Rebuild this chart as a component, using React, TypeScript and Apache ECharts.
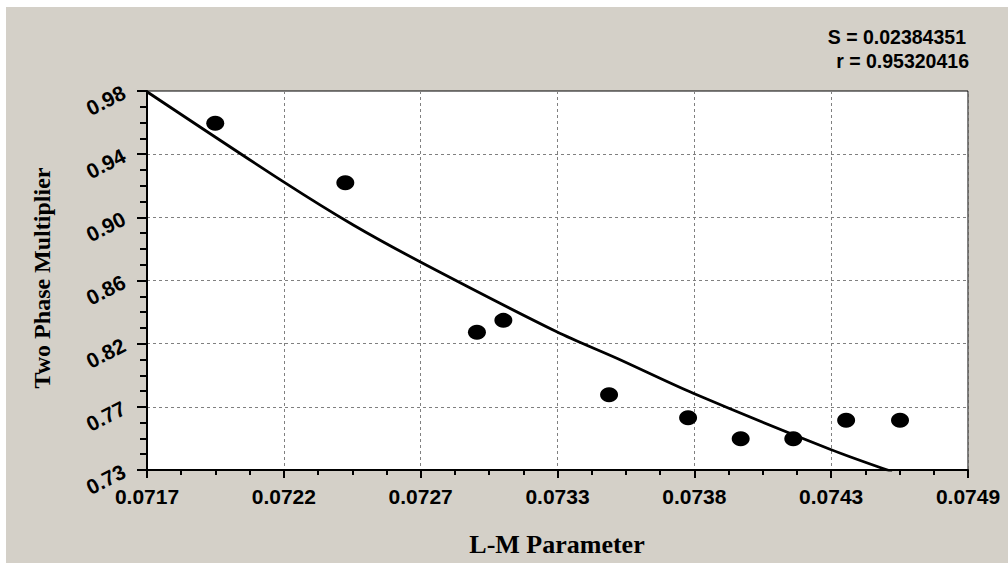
import React, { useEffect, useRef } from "react";
import * as echarts from "echarts";

// Measured data points
const lmParameter = [0.071966, 0.072473, 0.072986, 0.073089, 0.073501, 0.073809, 0.074014, 0.074219, 0.074425, 0.074635];
const twoPhaseMultiplier = [0.9587, 0.9195, 0.8208, 0.8287, 0.7797, 0.7645, 0.7506, 0.7506, 0.7628, 0.7628];

// Fitted curve
const fitX = [0.0717, 0.072231, 0.072504, 0.072764, 0.073297, 0.073531, 0.073829, 0.074362, 0.074604];
const fitY = [0.9795, 0.9202, 0.8916, 0.8674, 0.8212, 0.8037, 0.7806, 0.7437, 0.7289];

// Tick labels
const xTickLabels = ["0.0717", "0.0722", "0.0727", "0.0733", "0.0738", "0.0743", "0.0749"];
const yTickLabels = ["0.73", "0.77", "0.82", "0.86", "0.90", "0.94", "0.98"];

const xMin = 0.0717, xMax = 0.0749;
const yMin = 0.73, yMax = 0.98;

const statS = "S = 0.02384351";
const statR = "r = 0.95320416";
const xTitle = "L-M Parameter";
const yTitle = "Two Phase Multiplier";

const SANS = 'Arial, "Liberation Sans", sans-serif';
const SERIF = '"Times New Roman", "Liberation Serif", serif';

export default function App() {
  const ref = useRef<HTMLDivElement>(null);
  useEffect(() => {
    if (!ref.current) return;
    const chart = echarts.init(ref.current, null, { renderer: "svg" });
    const axisLine = { show: true, lineStyle: { color: "#000", width: 2 } };
    const splitLine = { show: true, lineStyle: { color: "#808080", width: 1, type: [3, 3] as any } };
    chart.setOption({
      animation: false,
      backgroundColor: "#d4d0c8",
      grid: {
        left: 147, top: 91, right: 40, bottom: 93,
        show: true, backgroundColor: "#fff", borderColor: "#000", borderWidth: 1,
      },
      xAxis: [
        { type: "value", min: xMin, max: xMax, show: false, position: "bottom" },
        {
          type: "value", min: 0, max: 6, interval: 1, position: "bottom",
          axisLine,
          axisTick: { show: true, length: 8, lineStyle: { color: "#000", width: 2 } },
          minorTick: { show: true, splitNumber: 4, length: 5, lineStyle: { color: "#000", width: 2 } },
          splitLine,
          axisLabel: {
            margin: 16, color: "#000", fontFamily: SANS, fontWeight: "bold", fontSize: 21,
            formatter: (v: number) => xTickLabels[Math.round(v)] ?? "",
          },
        },
      ],
      yAxis: [
        { type: "value", min: yMin, max: yMax, show: false, position: "left" },
        {
          type: "value", min: 0, max: 6, interval: 1, position: "left",
          axisLine,
          axisTick: { show: true, length: 10, lineStyle: { color: "#000", width: 2 } },
          minorTick: { show: true, splitNumber: 4, length: 7, lineStyle: { color: "#000", width: 2 } },
          splitLine,
          axisLabel: {
            margin: 23, rotate: 27, color: "#000", fontFamily: SANS, fontWeight: "bold", fontSize: 21,
            formatter: (v: number) => yTickLabels[Math.round(v)] ?? "",
          },
        },
      ],
      series: [
        {
          type: "line",
          xAxisIndex: 0, yAxisIndex: 0,
          data: fitX.map((x, i) => [x, fitY[i]]),
          smooth: 0.3,
          showSymbol: false,
          clip: true,
          lineStyle: { color: "#000", width: 2.8 },
          z: 3,
        },
        {
          type: "scatter",
          xAxisIndex: 0, yAxisIndex: 0,
          data: lmParameter.map((x, i) => [x, twoPhaseMultiplier[i]]),
          symbol: "circle",
          symbolSize: [18, 15],
          itemStyle: { color: "#000", opacity: 1 },
          z: 4,
        },
      ],
      graphic: [
        { type: "rect", shape: { x: 0, y: 0, width: 1008, height: 7 }, style: { fill: "#fff" }, silent: true },
        { type: "rect", shape: { x: 0, y: 0, width: 6, height: 563 }, style: { fill: "#fff" }, silent: true },
        {
          type: "text", x: 966, y: 37,
          style: { text: statS, font: `bold 19.5px ${SANS}`, fill: "#000", textAlign: "right", textVerticalAlign: "middle" },
        },
        {
          type: "text", x: 969, y: 61,
          style: { text: statR, font: `bold 19.5px ${SANS}`, fill: "#000", textAlign: "right", textVerticalAlign: "middle" },
        },
        {
          type: "text", x: 557, y: 544,
          style: { text: xTitle, font: `bold 26px ${SERIF}`, fill: "#000", textAlign: "center", textVerticalAlign: "middle" },
        },
        {
          type: "text", x: 42, y: 278, rotation: Math.PI / 2,
          style: { text: yTitle, font: `bold 24px ${SERIF}`, fill: "#000", textAlign: "center", textVerticalAlign: "middle" },
        },
      ],
    });
    return () => chart.dispose();
  }, []);
  return (
    <div
      ref={ref}
      style={{ position: "absolute", left: 0, top: 0, width: 1008, height: 563 }}
    />
  );
}
